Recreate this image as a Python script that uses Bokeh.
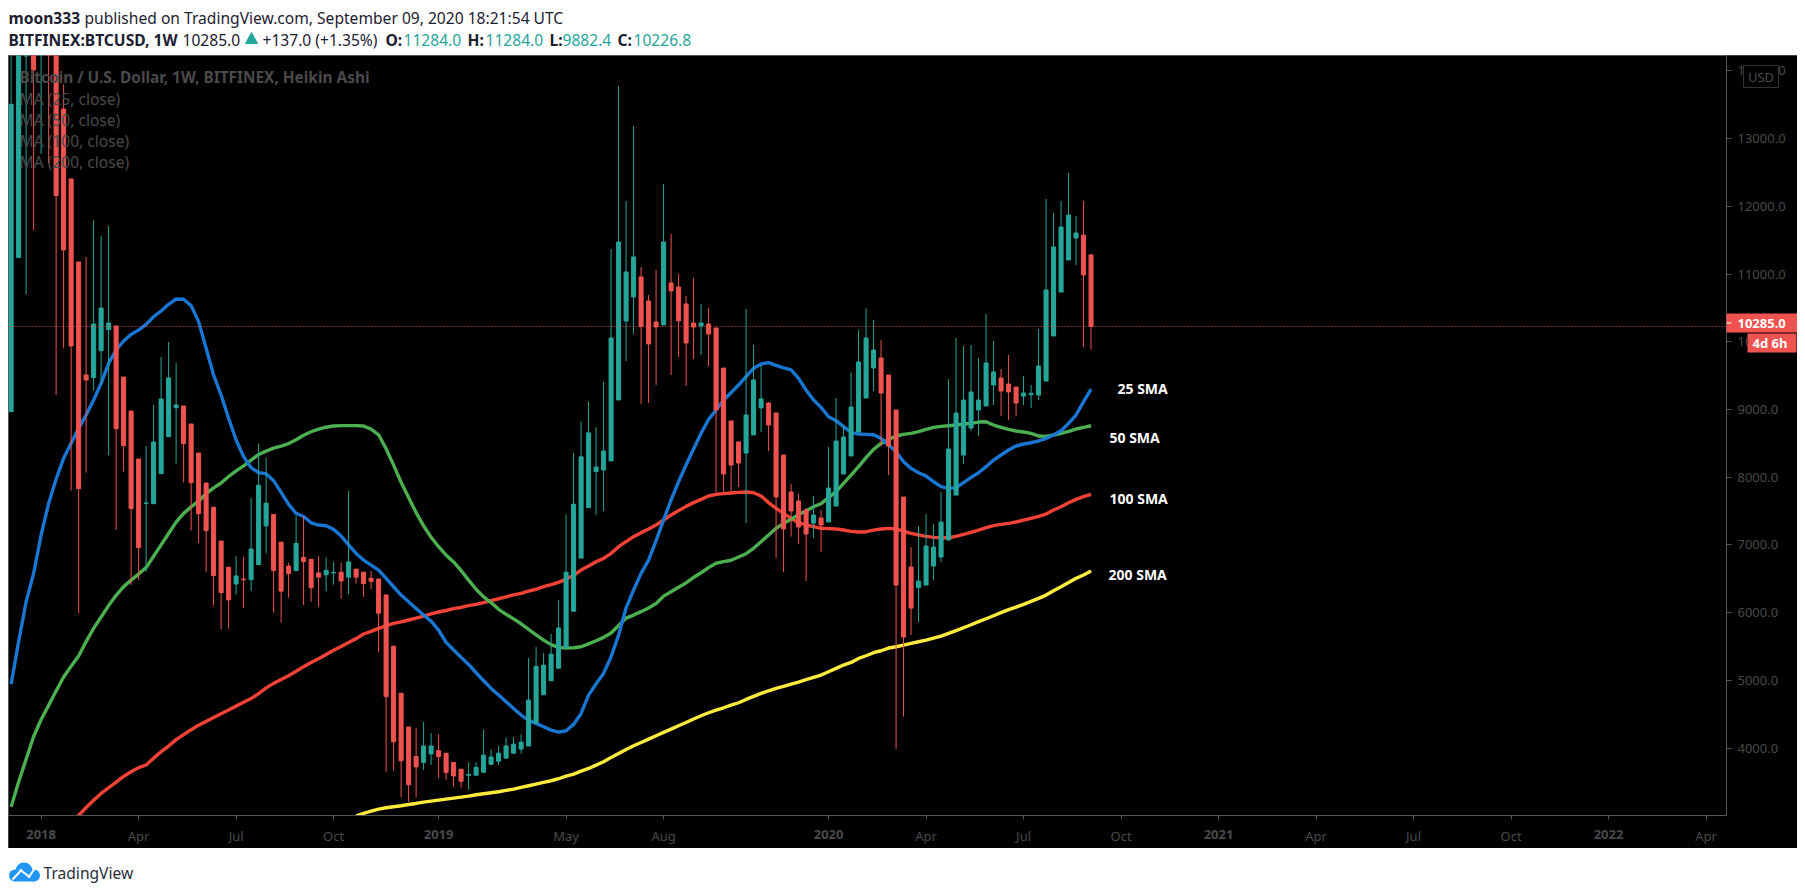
from bokeh.plotting import figure
from bokeh.layouts import column
from bokeh.models import Range1d, Label, Span, FixedTicker, NumeralTickFormatter
from bokeh.embed import file_html
from bokeh.resources import INLINE

FIRST_WEEK = -4  # bar index; 0 is the week of 2018-01-01
o = [8968,11243,14220,16000,14500,15600,14900,13438,12405,11179,9510,9471,9869,10179,10234,9480,8978,8269,7614,7609,8053,8599,9027,9052,8786,8358,7915,7557,7058,6671,6424,6497,6486,6710,7282,7450,7041,6688,6621,6817,6789,6587,6559,6587,6598,6525,6643,6598,6509,6497,6262,5505,4810,4311,3874,3790,3914,3964,3925,3790,3689,3600,3600,3644,3762,3807,3852,3925,3986,4031,4367,4788,4995,5180,5477,6021,6806,7551,8084,8107,8240,9141,10308,10662,10958,10603,10293,10249,10869,10810,10559,10278,10234,10263,10204,9613,8831,8521,8358,8624,9023,9096,8949,8328,7782,7649,7516,7324,7398,7339,7575,8048,8314,8668,9170,9613,9761,9510,8993,7708,6674,6369,6408,6689,6822,7073,7737,8328,8727,8993,9052,9362,9465,9377,9332,9199,9219,9214,9421,10086,10735,11208,11533,11577,11284]
h = [15000,16000,16200,16500,15500,15800,15000,13800,12405,11179,11253,11799,11563,11711,10234,9480,8978,8269,8461,9067,9776,9997,9687,9052,8786,8358,7915,7557,7058,6671,6834,6822,7691,8498,8291,7450,7041,6738,7428,7422,6789,6834,6817,6750,6738,7798,6643,6598,6615,6497,6262,5505,4810,4311,4295,4384,4222,4205,3925,3790,3689,3790,3790,4272,3981,4031,4160,4160,4205,5331,5494,5404,5685,6189,7450,8358,8823,9115,8739,9407,11371,13778,12080,13188,11105,10692,11061,12331,11593,11002,10677,10943,10559,10500,10204,9613,8831,8521,10485,9953,9658,9111,8949,8328,7900,7753,7546,7723,7516,8447,9170,8771,9549,10174,10494,10322,10027,9510,8993,7708,6969,7279,7457,7309,7782,9451,10056,9938,9953,9761,10411,10012,9598,9805,9332,9495,9362,10189,12109,11902,12079,12493,11858,12079,11284]
l = [8968,11243,10701,11651,12774,12636,9215,9904,7802,5990,8067,9279,9362,8328,7221,8082,6413,6482,6605,7609,8053,8599,8201,7920,7211,7029,6596,6105,5752,5763,6267,6071,6318,6710,6878,5999,5853,6223,6621,6116,6161,6088,6318,6413,6206,6273,6430,6234,6346,5416,3650,3667,3274,3207,3274,3678,3751,3555,3527,3431,3414,3386,3600,3644,3745,3751,3852,3925,3919,4031,4367,4788,4995,5180,5477,6021,6806,7551,7445,7502,8240,9141,9717,10116,9082,9097,9362,10249,9510,9776,9348,9746,9805,9643,7782,7782,7782,7856,7324,8624,8668,8388,6807,6600,7122,7014,6467,7103,6896,7339,7575,8048,8314,8668,9170,9273,8461,8033,3986,4464,5670,5862,6408,6482,6748,7073,7737,8195,8683,8609,9052,9067,8904,8845,8904,9067,9022,9140,9421,10086,10735,11208,11134,9923,9882.4]
c = [13507,15500,15800,14015,15300,14700,12158,11356,9938,7831,9436,10263,10499,10278,8717,8466,7536,6960,7620,8520,9155,9466,9067,8496,7920,7462,7211,6548,6296,6189,6542,6486,6940,7882,7618,6621,6318,6576,7024,6755,6368,6525,6626,6598,6469,6750,6525,6430,6464,5993,4760,4093,3813,3459,3723,4031,4031,3874,3639,3588,3510,3611,3717,3897,3869,3925,4031,4059,4087,4709,5208,5225,5388,5774,6598,7601,8302,8655,8151,8388,10057,11474,11031,11253,10224,9968,10219,11474,10751,10308,9983,10219,10278,10116,8993,8048,8181,8210,8919,9436,9156,8771,7708,7236,7502,7265,7162,7442,7295,7841,8535,8594,9037,9702,10056,9879,9244,8461,6408,5640,6068,6467,6984,6969,7338,8417,8948,9140,9259,9140,9687,9554,9273,9259,9096,9244,9239,9643,10765,11400,11695,11873,11607,10987,10226.8]

SMA25_START = -4
sma25 = [4945,5572,6161,6581,7147,7614,7974,8279,8501,8722,8919,9141,9387,9682,9879,10012,10110,10174,10258,10371,10455,10554,10632,10628,10534,10298,9904,9510,9214,8870,8550,8304,8141,8067,8053,7949,7777,7600,7467,7420,7328,7294,7284,7230,7132,7000,6875,6777,6703,6629,6506,6383,6260,6162,6063,5965,5876,5743,5561,5448,5340,5236,5113,4995,4882,4783,4685,4586,4488,4414,4365,4315,4266,4237,4256,4350,4512,4783,4950,5103,5350,5670,6070,6334,6580,6777,7063,7369,7664,7935,8181,8417,8649,8855,8993,9141,9249,9362,9486,9609,9673,9692,9653,9614,9584,9461,9289,9141,9032,8894,8835,8747,8663,8638,8633,8628,8574,8476,8377,8230,8131,8067,8018,7934,7861,7836,7846,7920,7998,8067,8156,8254,8328,8402,8461,8491,8510,8535,8574,8624,8688,8796,8919,9116,9303]
SMA50_START = -4
sma50 = [3134,3499,3835,4171,4423,4631,4844,5051,5208,5360,5573,5769,5937,6105,6256,6385,6481,6570,6666,6834,7002,7170,7338,7467,7562,7646,7758,7843,7915,8011,8095,8168,8252,8336,8386,8431,8459,8498,8554,8621,8672,8711,8739,8756,8762,8762,8762,8756,8711,8627,8420,8179,7927,7702,7478,7282,7114,6974,6850,6749,6621,6481,6346,6234,6150,6049,5976,5909,5836,5752,5673,5595,5528,5488,5477,5482,5497,5540,5585,5635,5700,5810,5920,5965,6015,6070,6135,6245,6310,6375,6440,6520,6590,6665,6730,6755,6775,6822,6871,6950,7049,7147,7246,7319,7379,7452,7502,7565,7610,7698,7787,7910,8033,8156,8289,8412,8500,8559,8609,8633,8648,8673,8707,8737,8752,8761,8771,8786,8796,8815,8820,8771,8737,8707,8683,8668,8648,8609,8604,8624,8648,8678,8712,8737,8761]
SMA100_START = 4
sma100 = [2880,3005,3123,3230,3331,3415,3499,3583,3650,3712,3751,3852,3947,4031,4126,4199,4272,4339,4395,4451,4507,4564,4620,4676,4732,4805,4889,4956,5012,5068,5135,5203,5264,5320,5382,5444,5500,5561,5617,5685,5724,5769,5808,5841,5864,5892,5920,5948,5982,6010,6032,6060,6077,6105,6122,6150,6178,6206,6234,6262,6284,6318,6346,6385,6413,6447,6495,6551,6630,6689,6753,6802,6876,6975,7049,7123,7182,7236,7295,7369,7443,7507,7570,7625,7674,7723,7748,7758,7767,7777,7782,7772,7723,7625,7541,7467,7393,7329,7295,7270,7246,7241,7236,7221,7201,7191,7196,7220,7235,7245,7235,7206,7171,7147,7127,7112,7107,7107,7127,7156,7186,7220,7255,7285,7304,7319,7339,7368,7393,7422,7457,7516,7565,7624,7673,7713,7747]
SMA200_START = 42
sma200 = [3000,3036,3070,3100,3119,3134,3149,3168,3183,3203,3218,3233,3247,3262,3277,3292,3311,3326,3341,3356,3375,3395,3420,3444,3469,3493,3518,3548,3587,3616,3661,3700,3749,3799,3863,3922,3981,4035,4084,4133,4183,4232,4281,4330,4379,4429,4478,4522,4562,4596,4635,4670,4719,4763,4808,4847,4882,4911,4946,4975,5010,5044,5079,5128,5178,5227,5266,5325,5364,5409,5438,5478,5497,5522,5546,5571,5596,5625,5655,5694,5734,5778,5822,5867,5911,5955,6000,6044,6083,6123,6167,6211,6260,6324,6383,6447,6507,6556,6615]

month_ticks = [13,26,39,70,83,118,131,144,170,183,196,222]
month_labels = ["Apr","Jul","Oct","May","Aug","Apr","Jul","Oct","Apr","Jul","Oct","Apr"]
year_ticks = [0,53,105,157,209]
year_labels = ["2018","2019","2020","2021","2022"]
price_ticks = [4000,5000,6000,7000,8000,9000,10000,11000,12000,13000,14000]
last_close = 10226.8

TEAL, RED = "#26a69a", "#ef5350"
DIM, LINE = "#4a4a4a", "#555555"
FONT = "Noto Sans"
W = 1789
X_START, X_END = -4.35, 224.73
FRAME_W = W - 71

def blank(height, **kw):
    f = figure(width=W, height=height, x_range=Range1d(0, W), y_range=Range1d(height, 0),
               x_axis_type=None, y_axis_type=None, toolbar_location=None, output_backend="svg",
               frame_align=False,
               min_border=0, background_fill_color="white", border_fill_color="white", **kw)
    f.outline_line_color = None
    f.grid.visible = False
    return f

def label(f, x, y, text, color, size, style="normal", align="left"):
    f.add_layout(Label(x=x, y=y, x_units="screen", y_units="screen", text=text, text_color=color,
                       text_font=FONT, text_font_size=f"{size}px", text_font_style=style,
                       text_align=align, text_baseline="middle"))

# header ------------------------------------------------------------------
head = blank(47)
def hl(x, page_y, text, color="#1c2030", style="normal", size=15.6):
    label(head, x - 8, 55 - page_y, text, color, size, style)
hl(8, 17, "moon333", style="bold")
hl(84, 17, "published on TradingView.com, September 09, 2020 18:21:54 UTC")
hl(8, 39, "BITFINEX:BTCUSD, 1W", style="bold")
hl(182, 39, "10285.0")
hl(262, 39, "+137.0 (+1.35%)")
head.patch([237, 243, 249], [35, 24, 35], color=TEAL)
for x, t in [(385, "O:"), (467, "H:"), (549, "L:"), (617, "C:")]:
    hl(x, 39, t, style="bold")
for x, t in [(403, "11284.0"), (485, "11284.0"), (562, "9882.4"), (633, "10226.8")]:
    hl(x, 39, t, color=TEAL)

# main chart --------------------------------------------------------------
p = figure(width=W, height=793, x_range=Range1d(X_START, X_END), y_range=Range1d(3005, 14228),
           y_axis_location="right", toolbar_location=None, output_backend="svg",
           frame_align=False,
           background_fill_color="black", border_fill_color="black",
           min_border_left=0, min_border_top=0, min_border_right=71, min_border_bottom=33)
p.grid.visible = False
p.outline_line_color = LINE
p.styles = {"outline": f"2px solid {LINE}", "outline-offset": "-2px"}

ax = p.xaxis[0]
ax.ticker = FixedTicker(ticks=month_ticks + year_ticks)
ax.major_label_overrides = {**dict(zip(month_ticks, month_labels)), **{k: "" for k in year_ticks}}
ay = p.yaxis[0]
ay.ticker = FixedTicker(ticks=price_ticks)
ay.formatter = NumeralTickFormatter(format="0.0")
for a, standoff, tick in [(ax, 7, 4), (ay, 6, 5)]:
    a.axis_line_color = LINE
    a.major_tick_line_color = LINE
    a.minor_tick_line_color = None
    a.major_tick_in = 0
    a.major_tick_out = tick
    a.major_label_text_color = DIM
    a.major_label_text_font = FONT
    a.major_label_text_font_size = "13px"
    a.major_label_standoff = standoff

for values, start, color in [(sma200, SMA200_START, "#ffeb3b"), (sma100, SMA100_START, "#f44336"),
                             (sma50, SMA50_START, "#4caf50"), (sma25, SMA25_START, "#1976d2")]:
    p.line(list(range(start, start + len(values))), values, line_color=color, line_width=3.4,
           line_join="round")

weeks = list(range(FIRST_WEEK, FIRST_WEEK + len(o)))
colors = [TEAL if b >= a else RED for a, b in zip(o, c)]
p.segment(weeks, l, weeks, h, line_color=colors, line_width=1)
p.vbar(weeks, width=0.54, bottom=[min(a, b) for a, b in zip(o, c)], top=[max(a, b) for a, b in zip(o, c)],
       fill_color=colors, line_color=colors, line_width=1)

p.add_layout(Span(location=last_close, dimension="width", line_color=RED, line_width=1, line_dash="1 2"))

# footer ------------------------------------------------------------------
foot = blank(39)
def fy(page_y):
    return page_y - 848
CLOUD = "#2196f3"
foot.circle([14.5 - 8, 23.5 - 8, 33.5 - 8], [fy(875), fy(870.5), fy(875)], radius=[6, 8.5, 6],
            fill_color=CLOUD, line_color=None)
foot.quad(left=[14 - 8], right=[34 - 8], top=[fy(875)], bottom=[fy(881)], fill_color=CLOUD, line_color=None)
foot.line([12 - 8, 20.5 - 8, 28.5 - 8, 36 - 8], [fy(879), fy(870), fy(876), fy(866)], line_color="white", line_width=2)
foot.circle([20.5 - 8, 28.5 - 8], [fy(870), fy(876)], radius=[1.6, 1.6], fill_color="white", line_color=None)
label(foot, 43 - 8, 887 - 872, "TradingView", "#2a2e39", 15.6)

# transparent page-size overlay: legend, SMA notes, price tags, year labels ---
OH = 47 + 793 + 39
over = blank(OH, margin=(-OH, 0, 0, 0))
over.background_fill_alpha = 0
over.border_fill_alpha = 0

def ol(x, page_y, text, color, size, style="normal", align="left"):
    label(over, x - 8, 887 - page_y, text, color, size, style, align)

def box(left, right, top, bottom, fill, line=None):
    over.quad(left=[left - 8], right=[right - 8], top=[top - 8], bottom=[bottom - 8],
              fill_color=fill, line_color=line)

ol(19, 77, "Bitcoin / U.S. Dollar, 1W, BITFINEX, Heikin Ashi", DIM, 15.4, "bold")
ol(19, 98, "MA (25, close)", DIM, 15.6)
ol(19, 119, "MA (50, close)", DIM, 15.6)
ol(19, 140, "MA (100, close)", DIM, 15.6)
ol(19, 161, "MA (200, close)", DIM, 15.6)
ol(1117, 388, "25 SMA", "white", 14, "bold")
ol(1109, 437, "50 SMA", "white", 14, "bold")
ol(1109, 498, "100 SMA", "white", 14, "bold")
ol(1108, 574, "200 SMA", "white", 14, "bold")

for t, s in zip(year_ticks, year_labels):
    px = (t - X_START) / (X_END - X_START) * FRAME_W + 8
    ol(px, 834, s, DIM, 13, "bold", "center")

box(1743, 1778, 65, 87, "black", "#333333")
ol(1760.5, 76, "USD", DIM, 13, align="center")
box(1726, 1797, 313, 332, RED)
box(1726, 1731, 322, 323, "white")
ol(1737, 322.5, "10285.0", "white", 13, "bold")
box(1747, 1796, 333, 352, RED)
ol(1752, 342.5, "4d 6h", "white", 13, "bold")

layout = column(head, p, foot, over, spacing=0, margin=(8, 0, 0, 8))
open("out.html", "w").write(file_html(layout, INLINE))
